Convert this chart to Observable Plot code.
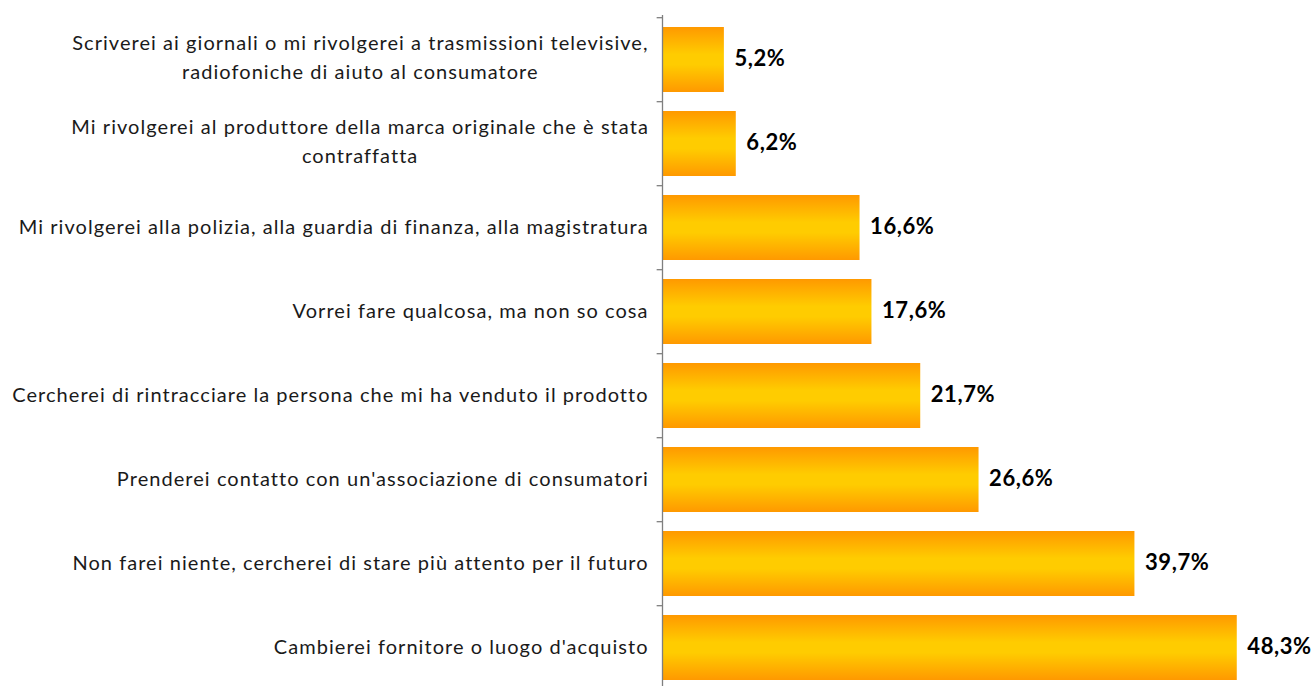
<!DOCTYPE html>
<html>
<head>
<meta charset="utf-8">
<script src="https://cdn.jsdelivr.net/npm/d3@7"></script>
<script src="https://cdn.jsdelivr.net/npm/@observablehq/plot@0.6"></script>
<style>
  html, body { margin: 0; padding: 0; background: #fff; overflow: hidden; }
  #chart svg { display: block; overflow: hidden; }
  #chart g[font-size="20"] text { letter-spacing: 1.05px; }
  #chart g[font-weight="bold"] text { letter-spacing: 0.6px; }
</style>
</head>
<body>
<div id="chart"></div>
<script>
const categories = [
  "Scriverei ai giornali o mi rivolgerei a trasmissioni televisive,\nradiofoniche di aiuto al consumatore",
  "Mi rivolgerei al produttore della marca originale che è stata\ncontraffatta",
  "Mi rivolgerei alla polizia, alla guardia di finanza, alla magistratura",
  "Vorrei fare qualcosa, ma non so cosa",
  "Cercherei di rintracciare la persona che mi ha venduto il prodotto",
  "Prenderei contatto con un'associazione di consumatori",
  "Non farei niente, cercherei di stare più attento per il futuro",
  "Cambierei fornitore o luogo d'acquisto"
];
const values = [5.2, 6.2, 16.6, 17.6, 21.7, 26.6, 39.7, 48.3];

const data = categories.map((c, i) => ({cat: c, value: values[i]}));

const labelFont = "Lato";
const labelSize = 20;
const labelSpacing = 1.05;
const ctx = document.createElement("canvas").getContext("2d");
ctx.font = `${labelSize}px ${labelFont}`;
const widthOf = s => Math.max(...s.split("\n").map(l => ctx.measureText(l).width + l.length * labelSpacing));

const yRange = [15, 692];
const step = (yRange[1] - yRange[0]) / categories.length;
const fmt = v => v.toFixed(1).replace(".", ",") + "%";

const chart = Plot.plot({
  width: 1314,
  height: 686,
  marginTop: 15,
  marginBottom: 0,
  marginLeft: 662,
  marginRight: 57,
  style: {background: "#fff"},
  x: {domain: [0, 50], range: [662, 1257], axis: null},
  y: {domain: categories, range: yRange, paddingInner: 0.232, paddingOuter: 0.116, axis: null},
  marks: [
    Plot.barX(data, {x: "value", y: "cat", fill: "url(#barGrad)"}),
    Plot.ruleX([0], {stroke: "#7f7f7f", strokeWidth: 1.3}),
    Plot.ruleY(categories, {y: d => d, x1: -0.45, x2: 0, dy: -step / 2, stroke: "#7f7f7f", strokeWidth: 1.3}),
    Plot.text(data, {x: "value", y: "cat", text: d => fmt(d.value), dx: 10, dy: -1, textAnchor: "start",
      fontWeight: "bold", fontSize: 22, fill: "#000", fontFamily: "Lato"}),
    ...categories.map(c => Plot.text([c], {
      x: 0, y: d => d, text: d => d, textAnchor: "middle",
      dx: -15 + labelSpacing - widthOf(c) / 2,
      dy: c.includes("\n") ? -5 : -3,
      fontSize: labelSize, fontFamily: labelFont, fill: "#1a1a1a", lineHeight: 1.47
    }))
  ]
});

d3.select(chart).insert("defs", ":first-child").html(`
  <linearGradient id="barGrad" x1="0" y1="0" x2="0" y2="1">
    <stop offset="0" stop-color="#ff9900"/>
    <stop offset="0.42" stop-color="#ffcc00"/>
    <stop offset="0.58" stop-color="#ffcc00"/>
    <stop offset="1" stop-color="#ff9900"/>
  </linearGradient>`);

document.getElementById("chart").appendChild(chart);
</script>
</body>
</html>
